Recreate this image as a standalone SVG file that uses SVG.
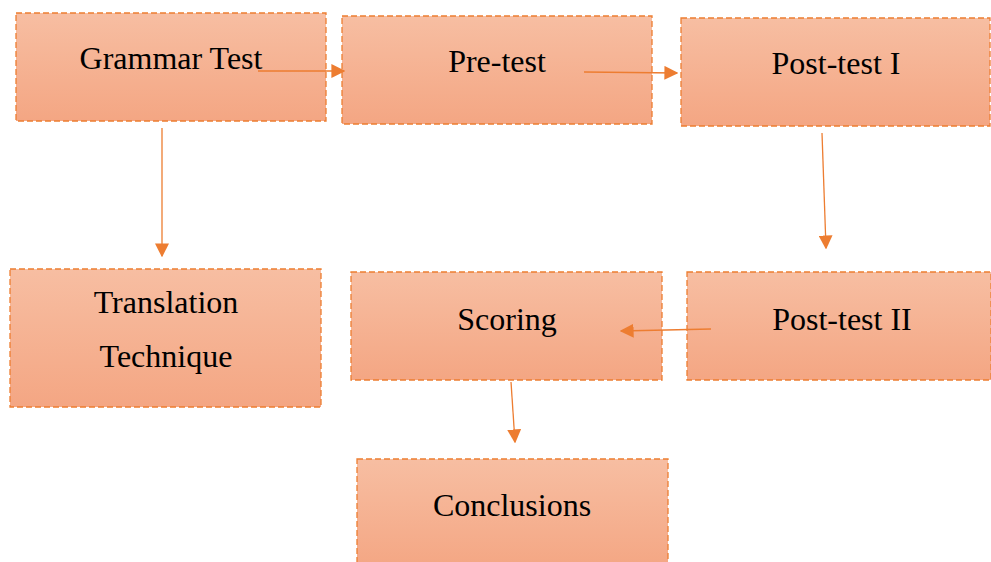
<svg xmlns="http://www.w3.org/2000/svg" width="991" height="562" viewBox="0 0 991 562">
<style>
.box{fill:url(#g);stroke:#ED7D31;stroke-width:1.3;stroke-dasharray:6 3}
.t{font-family:"Liberation Serif","Times New Roman",serif;font-size:32px;fill:#000;text-anchor:middle}
.c{stroke:#ED7D31;stroke-width:1.3;fill:none;marker-end:url(#a)}
</style>
<defs>
<linearGradient id="g" x1="0" y1="0" x2="0" y2="1">
<stop offset="0" stop-color="#F7BEA2"/>
<stop offset="1" stop-color="#F4A683"/>
</linearGradient>
<marker id="a" viewBox="0 0 10 10" refX="9" refY="5" markerWidth="14" markerHeight="14" markerUnits="userSpaceOnUse" orient="auto">
<path d="M0,0 L10,5 L0,10 Z" fill="#ED7D31"/>
</marker>
</defs>
<g id="grammar"><rect class="box" x="16" y="13" width="310" height="108"/><text class="t" x="171" y="69">Grammar Test</text></g>
<g id="pretest"><rect class="box" x="342" y="16" width="310" height="108"/><text class="t" x="497" y="72">Pre-test</text></g>
<g id="posttest1"><rect class="box" x="681" y="18" width="309" height="108"/><text class="t" x="836" y="74">Post-test I</text></g>
<g id="translation"><rect class="box" x="10" y="269" width="311" height="138"/><text class="t" x="166" y="313">Translation</text><text class="t" x="166" y="367">Technique</text></g>
<g id="scoring"><rect class="box" x="351" y="272" width="311" height="108"/><text class="t" x="507" y="330">Scoring</text></g>
<g id="posttest2"><rect class="box" x="687" y="272" width="304" height="108"/><text class="t" x="842" y="330">Post-test II</text></g>
<g id="conclusions"><rect class="box" x="357" y="459" width="311" height="110"/><text class="t" x="512" y="516">Conclusions</text></g>
<g id="connectors">
<line class="c" x1="258" y1="71" x2="344" y2="71"/>
<line class="c" x1="584" y1="72" x2="677" y2="73"/>
<line class="c" x1="162" y1="128" x2="162" y2="256"/>
<line class="c" x1="822" y1="133" x2="826" y2="248"/>
<line class="c" x1="711" y1="329" x2="621" y2="331"/>
<line class="c" x1="511" y1="382" x2="515" y2="442"/>
</g>
</svg>
